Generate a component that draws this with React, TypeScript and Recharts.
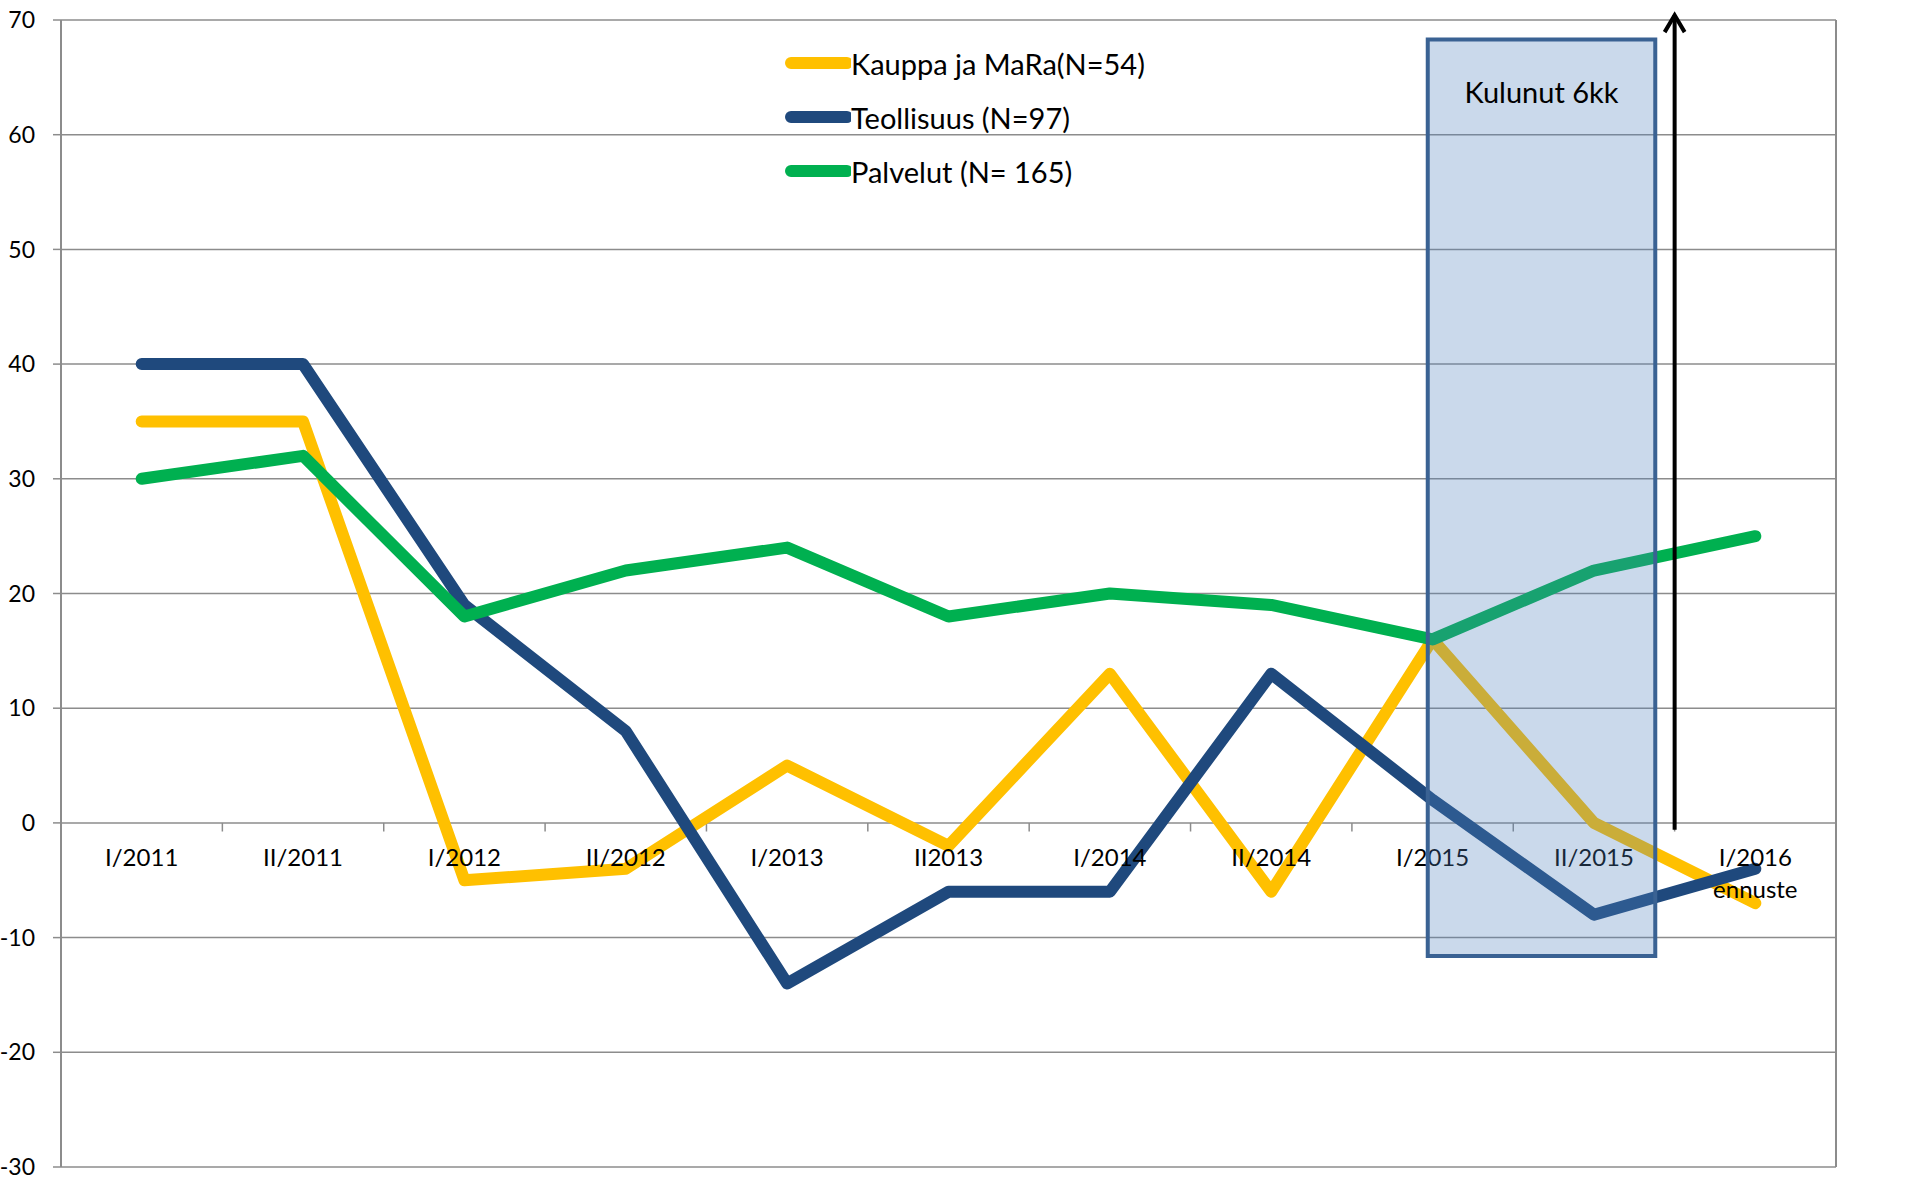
import {
  LineChart,
  Line,
  XAxis,
  YAxis,
  CartesianGrid,
  Legend,
  ReferenceArea,
  ReferenceLine,
  ReferenceDot,
} from "recharts";

const categories = [
  "I/2011",
  "II/2011",
  "I/2012",
  "II/2012",
  "I/2013",
  "II2013",
  "I/2014",
  "II/2014",
  "I/2015",
  "II/2015",
  "I/2016",
];
const forecastNote = "ennuste";

const kauppa = [35, 35, -5, -4, 5, -2, 13, -6, 16, 0, -7];
const teollisuus = [40, 40, 19, 8, -14, -6, -6, 13, 2, -8, -4];
const palvelut = [30, 32, 18, 22, 24, 18, 20, 19, 16, 22, 25];

const yTicks = [-30, -20, -10, 0, 10, 20, 30, 40, 50, 60, 70];

const data = categories.map((c, i) => ({
  idx: i,
  name: c,
  kauppa: kauppa[i],
  teollisuus: teollisuus[i],
  palvelut: palvelut[i],
}));

const FONT = "Lato, 'Open Sans', sans-serif";
const GRID = "#8c8c8c";

const series = [
  { key: "kauppa", name: "Kauppa ja MaRa(N=54)", color: "#FFC000" },
  { key: "teollisuus", name: "Teollisuus (N=97)", color: "#1F497D" },
  { key: "palvelut", name: "Palvelut (N= 165)", color: "#00B050" },
];

function LegendBox({ payload }: any) {
  const items = series
    .map((s) => (payload || []).find((p: any) => p.value === s.name))
    .filter(Boolean);
  return (
    <div style={{ fontFamily: FONT, fontSize: 29, color: "#000" }}>
      {items.map((p: any) => (
        <div
          key={p.value}
          style={{ display: "flex", alignItems: "center", height: 54 }}
        >
          <svg width={66} height={14} style={{ display: "block" }}>
            <line
              x1={6}
              y1={7}
              x2={62}
              y2={7}
              stroke={p.color}
              strokeWidth={12}
              strokeLinecap="round"
            />
          </svg>
          <span style={{ whiteSpace: "nowrap" }}>{p.value}</span>
        </div>
      ))}
    </div>
  );
}

function Arrow(props: any) {
  const { x1, y1, x2, y2 } = props;
  const top = Math.min(y1, y2);
  const bottom = Math.max(y1, y2);
  return (
    <g>
      <line x1={x1} y1={bottom} x2={x2} y2={top + 2} stroke="#000" strokeWidth={4} />
      <polyline
        points={`${x1 - 10},${top + 19} ${x1},${top + 2} ${x1 + 10},${top + 19}`}
        fill="none"
        stroke="#000"
        strokeWidth={4}
      />
    </g>
  );
}

export default function App() {
  return (
    <div style={{ position: "absolute", left: 0, top: 0 }}>
      <LineChart
        width={1905}
        height={1181}
        data={data}
        margin={{ top: 20, right: 0, bottom: 14, left: 0 }}
      >
        <CartesianGrid
          yAxisId="left"
          vertical={false}
          stroke={GRID}
          strokeWidth={1.5}
        />
        <XAxis
          type="number"
          dataKey="idx"
          domain={[-0.5, 10.5]}
          hide
        />
        <YAxis
          yAxisId="left"
          domain={[-30, 70]}
          ticks={yTicks}
          width={61}
          tickSize={8}
          tickMargin={18}
          axisLine={{ stroke: GRID, strokeWidth: 2 }}
          tickLine={{ stroke: GRID, strokeWidth: 1.5 }}
          tick={{ fill: "#000", fontSize: 23, fontFamily: FONT }}
          interval={0}
        />
        <YAxis
          yAxisId="right"
          orientation="right"
          domain={[-30, 70]}
          ticks={yTicks}
          width={69}
          tickSize={8}
          tickMargin={17}
          axisLine={{ stroke: GRID, strokeWidth: 2 }}
          tickLine={{ stroke: GRID, strokeWidth: 1.5 }}
          tick={{ fill: "#000", fontSize: 23, fontFamily: FONT, textAnchor: "start" }}
          interval={0}
        />

        {categories.slice(0, -1).map((_, i) => (
          <ReferenceLine
            key={`t${i}`}
            yAxisId="left"
            segment={[
              { x: i + 0.5, y: 0 },
              { x: i + 0.5, y: -0.75 },
            ]}
            stroke={GRID}
            strokeWidth={1.5}
            ifOverflow="visible"
          />
        ))}

        {categories.map((c, i) => (
          <ReferenceDot
            key={`l${i}`}
            yAxisId="left"
            x={i}
            y={0}
            r={0}
            ifOverflow="visible"
            shape={(p: any) => (
              <text
                x={p.cx}
                textAnchor="middle"
                fontFamily={FONT}
                fontSize={24}
                fill="#000"
              >
                <tspan x={p.cx} y={p.cy + 43}>
                  {c}
                </tspan>
                {i === categories.length - 1 && (
                  <tspan x={p.cx} y={p.cy + 75}>
                    {forecastNote}
                  </tspan>
                )}
              </text>
            )}
          />
        ))}

        {series.map((s) => (
          <Line
            key={s.key}
            yAxisId="left"
            type="linear"
            dataKey={s.key}
            name={s.name}
            stroke={s.color}
            strokeWidth={12}
            strokeLinecap="round"
            strokeLinejoin="round"
            dot={false}
            activeDot={false}
            isAnimationActive={false}
          />
        ))}

        <ReferenceArea
          yAxisId="left"
          x1={7.97}
          x2={9.38}
          y1={-11.6}
          y2={68.3}
          fill="#4F81BD"
          fillOpacity={0.3}
          stroke="#3A6293"
          strokeWidth={4}
          strokeOpacity={1}
          ifOverflow="visible"
          zIndex={1000}
          label={(p: any) => {
            const vb = p.viewBox;
            return (
              <text
                x={vb.x + vb.width / 2}
                y={vb.y + 64}
                textAnchor="middle"
                fontFamily={FONT}
                fontSize={29}
                fill="#000"
              >
                Kulunut 6kk
              </text>
            );
          }}
        />

        <ReferenceLine
          yAxisId="left"
          segment={[
            { x: 9.5, y: -0.6 },
            { x: 9.5, y: 70.6 },
          ]}
          ifOverflow="visible"
          zIndex={1000}
          shape={Arrow}
        />

        <Legend
          layout="vertical"
          align="center"
          verticalAlign="middle"
          content={LegendBox}
          wrapperStyle={{ position: "absolute", left: 785, top: 36, width: "auto" }}
        />
      </LineChart>
    </div>
  );
}
